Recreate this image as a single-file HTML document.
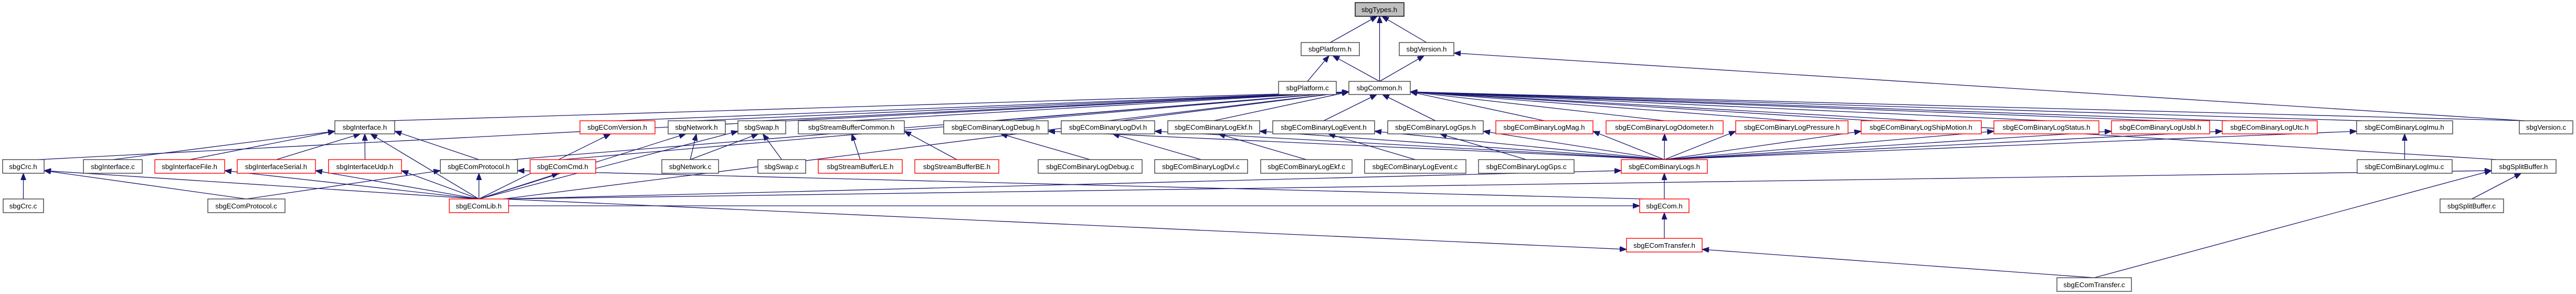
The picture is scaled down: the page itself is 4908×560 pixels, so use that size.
<!DOCTYPE html>
<html><head><meta charset="utf-8"><style>
html,body{margin:0;padding:0;background:#fff;width:4908px;height:560px;overflow:hidden}
svg{display:block}
text{font-family:"Liberation Sans",sans-serif;font-size:13.3px;fill:#000;text-anchor:middle}
.n{fill:#fff;stroke:#404040;stroke-width:1.4}
.r{fill:#fff;stroke:#ff0000;stroke-width:1.4}
.g{fill:#bfbfbf;stroke:#000;stroke-width:1.4}
.e{fill:none;stroke:#191970;stroke-width:1.3}
</style></head><body>
<svg id="s" width="4908" height="560" xmlns="http://www.w3.org/2000/svg">
<defs><marker id="a" markerUnits="userSpaceOnUse" markerWidth="14" markerHeight="12" refX="13" refY="5" orient="auto"><path d="M0,0 L13,5 L0,10 z" fill="#191970" stroke="#191970"/></marker></defs>
<g id="edges"></g>
<g id="nodes">
<rect class="g" x="2582" y="5" width="93" height="26"/><text x="2628" y="23">sbgTypes.h</text>
<rect class="n" x="2479" y="81" width="111" height="25"/><text x="2534" y="98">sbgPlatform.h</text>
<rect class="n" x="2666" y="81" width="104" height="25"/><text x="2718" y="98">sbgVersion.h</text>
<rect class="n" x="2436" y="155" width="110" height="25"/><text x="2491" y="172">sbgPlatform.c</text>
<rect class="n" x="2570" y="155" width="117" height="25"/><text x="2628" y="172">sbgCommon.h</text>

<rect class="n" x="638" y="230" width="114" height="25"/><text x="695" y="247">sbgInterface.h</text>
<rect class="r" x="1105" y="230" width="143" height="25"/><text x="1176" y="247">sbgEComVersion.h</text>
<rect class="n" x="1273" y="230" width="109" height="25"/><text x="1327" y="247">sbgNetwork.h</text>
<rect class="n" x="1406" y="230" width="91" height="25"/><text x="1451" y="247">sbgSwap.h</text>
<rect class="n" x="1521" y="230" width="202" height="25"/><text x="1622" y="247">sbgStreamBufferCommon.h</text>
<rect class="n" x="1798" y="230" width="199" height="25"/><text x="1897" y="247">sbgEComBinaryLogDebug.h</text>
<rect class="n" x="2022" y="230" width="178" height="25"/><text x="2111" y="247">sbgEComBinaryLogDvl.h</text>
<rect class="n" x="2225" y="230" width="175" height="25"/><text x="2312" y="247">sbgEComBinaryLogEkf.h</text>
<rect class="n" x="2425" y="230" width="194" height="25"/><text x="2522" y="247">sbgEComBinaryLogEvent.h</text>
<rect class="n" x="2644" y="230" width="182" height="25"/><text x="2735" y="247">sbgEComBinaryLogGps.h</text>
<rect class="r" x="2850" y="230" width="185" height="25"/><text x="2942" y="247">sbgEComBinaryLogMag.h</text>
<rect class="r" x="3060" y="230" width="223" height="25"/><text x="3171" y="247">sbgEComBinaryLogOdometer.h</text>
<rect class="r" x="3307" y="230" width="214" height="25"/><text x="3414" y="247">sbgEComBinaryLogPressure.h</text>
<rect class="r" x="3546" y="230" width="229" height="25"/><text x="3660" y="247">sbgEComBinaryLogShipMotion.h</text>
<rect class="r" x="3799" y="230" width="200" height="25"/><text x="3899" y="247">sbgEComBinaryLogStatus.h</text>
<rect class="r" x="4023" y="230" width="187" height="25"/><text x="4116" y="247">sbgEComBinaryLogUsbl.h</text>
<rect class="r" x="4234" y="230" width="181" height="25"/><text x="4324" y="247">sbgEComBinaryLogUtc.h</text>
<rect class="n" x="4490" y="230" width="183" height="25"/><text x="4581" y="247">sbgEComBinaryLogImu.h</text>
<rect class="n" x="4800" y="230" width="102" height="25"/><text x="4851" y="247">sbgVersion.c</text>

<rect class="n" x="5" y="304" width="79" height="26"/><text x="44" y="322">sbgCrc.h</text>
<rect class="n" x="159" y="304" width="112" height="26"/><text x="215" y="322">sbgInterface.c</text>
<rect class="r" x="295" y="304" width="133" height="26"/><text x="361" y="322">sbgInterfaceFile.h</text>
<rect class="r" x="452" y="304" width="149" height="26"/><text x="526" y="322">sbgInterfaceSerial.h</text>
<rect class="r" x="626" y="304" width="139" height="26"/><text x="695" y="322">sbgInterfaceUdp.h</text>
<rect class="n" x="839" y="304" width="147" height="26"/><text x="912" y="322">sbgEComProtocol.h</text>
<rect class="r" x="1010" y="304" width="125" height="26"/><text x="1072" y="322">sbgEComCmd.h</text>
<rect class="n" x="1261" y="304" width="108" height="26"/><text x="1315" y="322">sbgNetwork.c</text>
<rect class="n" x="1444" y="304" width="91" height="26"/><text x="1489" y="322">sbgSwap.c</text>
<rect class="r" x="1559" y="304" width="160" height="26"/><text x="1639" y="322">sbgStreamBufferLE.h</text>
<rect class="r" x="1743" y="304" width="160" height="26"/><text x="1823" y="322">sbgStreamBufferBE.h</text>
<rect class="n" x="1978" y="304" width="198" height="26"/><text x="2077" y="322">sbgEComBinaryLogDebug.c</text>
<rect class="n" x="2200" y="304" width="177" height="26"/><text x="2288" y="322">sbgEComBinaryLogDvl.c</text>
<rect class="n" x="2402" y="304" width="174" height="26"/><text x="2489" y="322">sbgEComBinaryLogEkf.c</text>
<rect class="n" x="2600" y="304" width="193" height="26"/><text x="2696" y="322">sbgEComBinaryLogEvent.c</text>
<rect class="n" x="2817" y="304" width="182" height="26"/><text x="2908" y="322">sbgEComBinaryLogGps.c</text>
<rect class="r" x="3089" y="304" width="164" height="26"/><text x="3171" y="322">sbgEComBinaryLogs.h</text>
<rect class="n" x="4491" y="304" width="181" height="26"/><text x="4581" y="322">sbgEComBinaryLogImu.c</text>
<rect class="n" x="4747" y="304" width="123" height="26"/><text x="4808" y="322">sbgSplitBuffer.h</text>

<rect class="n" x="6" y="379" width="77" height="26"/><text x="44" y="397">sbgCrc.c</text>
<rect class="n" x="396" y="379" width="147" height="26"/><text x="469" y="397">sbgEComProtocol.c</text>
<rect class="r" x="856" y="379" width="113" height="26"/><text x="912" y="397">sbgEComLib.h</text>
<rect class="r" x="3124" y="379" width="94" height="26"/><text x="3171" y="397">sbgECom.h</text>
<rect class="n" x="4649" y="379" width="121" height="26"/><text x="4709" y="397">sbgSplitBuffer.c</text>

<rect class="r" x="3099" y="454" width="144" height="26"/><text x="3171" y="472">sbgEComTransfer.h</text>
<rect class="n" x="3919" y="529" width="142" height="26"/><text x="3990" y="547">sbgEComTransfer.c</text>
</g>
</svg>
<script>
(function(){
var N={};
document.querySelectorAll('#nodes rect').forEach(function(r){
  var t=r.nextElementSibling.textContent;
  N[t]={x:+r.getAttribute('x'),y:+r.getAttribute('y'),w:+r.getAttribute('width'),h:+r.getAttribute('height')};
});
var E=[
['sbgPlatform.h','sbgTypes.h'],['sbgCommon.h','sbgTypes.h'],['sbgVersion.h','sbgTypes.h'],
['sbgPlatform.c','sbgPlatform.h'],['sbgCommon.h','sbgPlatform.h'],['sbgCommon.h','sbgVersion.h'],
['sbgVersion.c','sbgVersion.h']];
['sbgInterface.h','sbgEComVersion.h','sbgNetwork.h','sbgSwap.h','sbgStreamBufferCommon.h','sbgEComBinaryLogDebug.h','sbgEComBinaryLogDvl.h','sbgEComBinaryLogEkf.h','sbgEComBinaryLogEvent.h','sbgEComBinaryLogGps.h','sbgEComBinaryLogMag.h','sbgEComBinaryLogOdometer.h','sbgEComBinaryLogPressure.h','sbgEComBinaryLogShipMotion.h','sbgEComBinaryLogStatus.h','sbgEComBinaryLogUsbl.h','sbgEComBinaryLogUtc.h','sbgEComBinaryLogImu.h','sbgVersion.c','sbgCrc.h','sbgEComProtocol.h','sbgEComCmd.h','sbgEComLib.h','sbgSplitBuffer.h'].forEach(function(s){E.push([s,'sbgCommon.h']);});
E=E.concat([
['sbgInterface.c','sbgInterface.h'],['sbgInterfaceFile.h','sbgInterface.h'],['sbgInterfaceSerial.h','sbgInterface.h'],['sbgInterfaceUdp.h','sbgInterface.h'],['sbgEComProtocol.h','sbgInterface.h'],['sbgEComLib.h','sbgInterface.h'],
['sbgCrc.c','sbgCrc.h'],['sbgEComProtocol.c','sbgCrc.h'],['sbgEComLib.h','sbgCrc.h'],
['sbgEComLib.h','sbgInterfaceFile.h'],['sbgEComLib.h','sbgInterfaceSerial.h'],['sbgEComLib.h','sbgInterfaceUdp.h'],
['sbgEComLib.h','sbgEComProtocol.h'],['sbgEComProtocol.c','sbgEComProtocol.h'],['sbgECom.h','sbgEComProtocol.h'],
['sbgEComLib.h','sbgEComCmd.h'],['sbgEComLib.h','sbgEComVersion.h'],['sbgNetwork.c','sbgNetwork.h'],['sbgEComLib.h','sbgNetwork.h'],
['sbgSwap.c','sbgSwap.h'],['sbgNetwork.c','sbgSwap.h'],['sbgEComLib.h','sbgSwap.h'],
['sbgStreamBufferLE.h','sbgStreamBufferCommon.h'],['sbgStreamBufferBE.h','sbgStreamBufferCommon.h'],
['sbgEComBinaryLogDebug.c','sbgEComBinaryLogDebug.h'],['sbgEComBinaryLogDvl.c','sbgEComBinaryLogDvl.h'],['sbgEComBinaryLogEkf.c','sbgEComBinaryLogEkf.h'],['sbgEComBinaryLogEvent.c','sbgEComBinaryLogEvent.h'],['sbgEComBinaryLogGps.c','sbgEComBinaryLogGps.h'],['sbgEComBinaryLogImu.c','sbgEComBinaryLogImu.h'],
['sbgECom.h','sbgEComBinaryLogs.h'],['sbgEComTransfer.h','sbgECom.h'],['sbgEComTransfer.c','sbgEComTransfer.h'],
['sbgSplitBuffer.c','sbgSplitBuffer.h'],['sbgEComTransfer.c','sbgSplitBuffer.h'],['sbgEComLib.h','sbgSplitBuffer.h'],
['sbgEComLib.h','sbgECom.h'],['sbgEComLib.h','sbgEComTransfer.h'],['sbgEComLib.h','sbgEComBinaryLogs.h']
]);
['Debug','Dvl','Ekf','Event','Gps','Mag','Odometer','Pressure','ShipMotion','Status','Usbl','Utc','Imu'].forEach(function(k){E.push(['sbgEComBinaryLogs.h','sbgEComBinaryLog'+k+'.h']);});
var g=document.getElementById('edges'),out='';
E.forEach(function(e){
  var s=N[e[0]],t=N[e[1]];if(!s||!t)return;
  var sx=s.x+s.w/2,sy=s.y,tx=t.x+t.w/2,ty=t.y+t.h;
  var d;
  if(Math.abs(s.y-t.y)<5){
    sy=s.y+s.h/2;ty=t.y+t.h/2;
    if(tx>sx){sx=s.x+s.w;tx=t.x;}else{sx=s.x;tx=t.x+t.w;}
    d='M'+sx+','+sy+' L'+tx+','+ty;
  }else{
    var dx=tx-sx,dy=sy-ty;
    if(Math.abs(dx)>dy*4){
      // long shallow edge: end on target side near bottom
      tx=dx>0?t.x:t.x+t.w; ty=t.y+t.h-5;
      if(Math.abs(sx-tx)>1500){ sx=sx+(dx>0?s.w/2-10:-(s.w/2-10)); }
      d='M'+sx+','+sy+' L'+tx+','+ty;
    }else{
      tx=tx+(dx>0?-Math.min(t.w/2-6,Math.abs(dx)*0.05):Math.min(t.w/2-6,Math.abs(dx)*0.05));
      d='M'+sx+','+sy+' L'+tx+','+ty;
    }
  }
  out+='<path class="e" d="'+d+'" marker-end="url(#a)"/>';
});
g.innerHTML=out;
})();
</script>
</body></html>
